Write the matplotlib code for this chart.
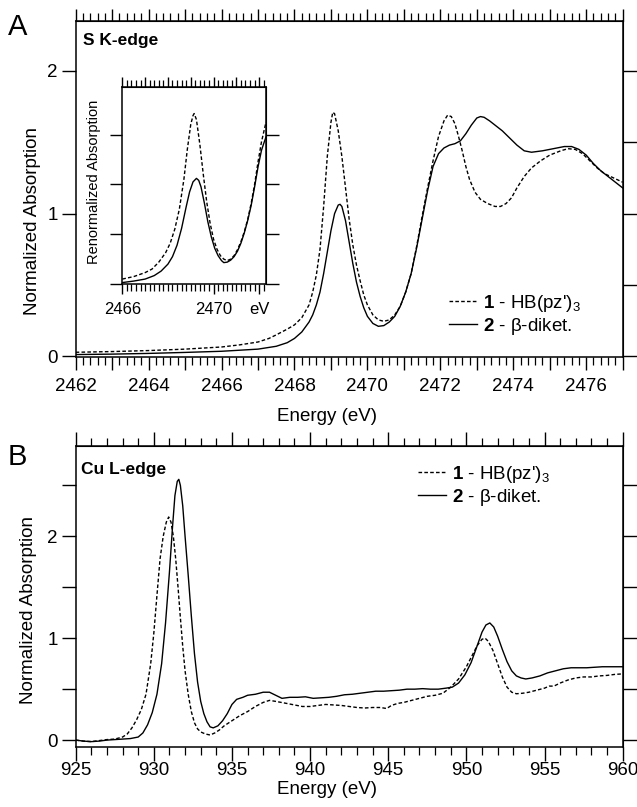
import numpy as np
import matplotlib
matplotlib.use('Agg')
import matplotlib.pyplot as plt
from matplotlib.ticker import MultipleLocator, FixedLocator, FuncFormatter, NullFormatter

plt.rcParams['font.family'] = ['Liberation Sans', 'DejaVu Sans']
plt.rcParams['mathtext.fontset'] = 'custom'
plt.rcParams['mathtext.rm'] = 'Liberation Sans'
plt.rcParams['mathtext.bf'] = 'Liberation Sans:bold'
plt.rcParams['mathtext.it'] = 'Liberation Sans:italic'

# --- Panel A: S K-edge (main) ---
sk_e1 = [2462, 2463, 2464, 2465, 2466, 2466.5, 2467, 2467.3, 2467.5, 2467.8, 2468.0, 2468.2,
         2468.4, 2468.5, 2468.6, 2468.7, 2468.8, 2468.9, 2469.0, 2469.05, 2469.1, 2469.2,
         2469.3, 2469.4, 2469.5, 2469.6, 2469.7, 2469.8, 2469.9, 2470.0, 2470.15, 2470.3,
         2470.45, 2470.6, 2470.75, 2470.9, 2471.05, 2471.2, 2471.35, 2471.5, 2471.65, 2471.8,
         2471.95, 2472.1, 2472.2, 2472.3, 2472.4, 2472.5, 2472.6, 2472.7, 2472.8, 2472.95,
         2473.1, 2473.3, 2473.5, 2473.65, 2473.8, 2473.95, 2474.1, 2474.3, 2474.5, 2474.75,
         2475.0, 2475.3, 2475.5, 2475.7, 2475.9, 2476.1, 2476.3, 2476.5, 2476.75, 2477.0]
sk_y1 = [0.028, 0.033, 0.04, 0.05, 0.065, 0.08, 0.10, 0.125, 0.15, 0.19, 0.22, 0.27,
         0.36, 0.45, 0.57, 0.75, 1.05, 1.40, 1.64, 1.71, 1.70, 1.58,
         1.40, 1.18, 0.96, 0.78, 0.64, 0.53, 0.43, 0.36, 0.29, 0.255,
         0.245, 0.255, 0.29, 0.35, 0.45, 0.58, 0.77, 0.98, 1.18, 1.37,
         1.54, 1.65, 1.69, 1.68, 1.63, 1.54, 1.44, 1.33, 1.24, 1.15,
         1.10, 1.07, 1.05, 1.05, 1.07, 1.11, 1.18, 1.26, 1.32, 1.37,
         1.41, 1.44, 1.455, 1.45, 1.42, 1.37, 1.32, 1.28, 1.25, 1.22]

sk_e2 = [2462, 2463, 2464, 2465, 2466, 2467, 2467.5, 2467.8, 2468.0, 2468.2, 2468.4, 2468.5,
         2468.6, 2468.7, 2468.8, 2468.9, 2469.0, 2469.1, 2469.2, 2469.25, 2469.3, 2469.4,
         2469.5, 2469.6, 2469.7, 2469.8, 2469.9, 2470.0, 2470.15, 2470.3, 2470.45, 2470.6,
         2470.75, 2470.9, 2471.05, 2471.2, 2471.35, 2471.5, 2471.65, 2471.8, 2471.95, 2472.1,
         2472.25, 2472.4, 2472.55, 2472.7, 2472.85, 2473.0, 2473.1, 2473.2, 2473.35, 2473.5,
         2473.7, 2473.9, 2474.1, 2474.3, 2474.5, 2474.8, 2475.1, 2475.4, 2475.6, 2475.8,
         2476.0, 2476.2, 2476.4, 2476.6, 2476.8, 2477.0]
sk_y2 = [0.012, 0.015, 0.02, 0.027, 0.035, 0.05, 0.07, 0.095, 0.125, 0.17, 0.24, 0.29,
         0.36, 0.45, 0.58, 0.73, 0.88, 1.00, 1.06, 1.065, 1.05, 0.95,
         0.80, 0.65, 0.52, 0.42, 0.34, 0.28, 0.23, 0.21, 0.215, 0.24,
         0.28, 0.35, 0.45, 0.58, 0.76, 0.96, 1.16, 1.33, 1.42, 1.46,
         1.48, 1.49, 1.51, 1.56, 1.62, 1.67, 1.68, 1.675, 1.65, 1.62,
         1.58, 1.53, 1.48, 1.44, 1.43, 1.44, 1.455, 1.47, 1.47, 1.45,
         1.41, 1.35, 1.30, 1.26, 1.22, 1.18]

# --- Panel A inset: renormalized ---
in_e1 = [2466, 2466.5, 2467, 2467.3, 2467.6, 2467.9, 2468.1, 2468.3, 2468.5, 2468.7,
         2468.85, 2469.0, 2469.1, 2469.15, 2469.25, 2469.4, 2469.55, 2469.7, 2469.85, 2470.0,
         2470.15, 2470.3, 2470.45, 2470.6, 2470.75, 2470.9, 2471.05, 2471.2, 2471.35, 2471.5,
         2471.65, 2471.8, 2471.95, 2472.1, 2472.2, 2472.3]
in_y1 = [0.10, 0.15, 0.23, 0.30, 0.44, 0.63, 0.82, 1.10, 1.50, 2.10,
         2.70, 3.20, 3.38, 3.42, 3.30, 2.80, 2.20, 1.65, 1.22, 0.90,
         0.70, 0.57, 0.50, 0.47, 0.50, 0.57, 0.69, 0.85, 1.05, 1.30,
         1.62, 2.00, 2.45, 2.85, 3.05, 3.25]

in_e2 = [2466, 2466.5, 2467, 2467.4, 2467.7, 2468.0, 2468.2, 2468.4, 2468.6, 2468.8,
         2468.95, 2469.1, 2469.25, 2469.35, 2469.45, 2469.6, 2469.75, 2469.9, 2470.05, 2470.2,
         2470.35, 2470.45, 2470.6, 2470.75, 2470.9, 2471.05, 2471.2, 2471.35, 2471.5, 2471.65,
         2471.8, 2471.95, 2472.1, 2472.2, 2472.3]
in_y2 = [0.03, 0.06, 0.10, 0.17, 0.26, 0.40, 0.55, 0.78, 1.12, 1.55,
         1.85, 2.05, 2.12, 2.08, 1.95, 1.62, 1.25, 0.95, 0.72, 0.57,
         0.47, 0.43, 0.44, 0.48, 0.55, 0.66, 0.82, 1.03, 1.28, 1.58,
         1.95, 2.35, 2.68, 2.82, 2.95]

# --- Panel B: Cu L-edge ---
cu_e1 = [925, 925.5, 926, 926.5, 927, 927.5, 928, 928.3, 928.6, 928.9, 929.2, 929.5, 929.8,
         930.0, 930.2, 930.4, 930.6, 930.8, 930.95, 931.1, 931.25, 931.4, 931.55, 931.7,
         931.85, 932.0, 932.2, 932.4, 932.6, 932.8, 933.0, 933.3, 933.6, 933.9, 934.2,
         934.5, 935, 935.5, 936, 936.5, 937, 937.4, 937.8, 938.5, 939, 939.5, 940, 940.5,
         941, 941.5, 942, 942.5, 943, 943.5, 944, 944.5, 944.9, 945.2, 945.6, 946, 946.5,
         947, 947.5, 948, 948.5, 949, 949.5, 950, 950.4, 950.7, 951.0, 951.2, 951.4, 951.7,
         952.0, 952.3, 952.6, 952.9, 953.2, 953.6, 954, 954.5, 955, 955.3, 955.6, 956,
         956.5, 957, 957.5, 958, 958.5, 959, 959.5, 960]
cu_y1 = [0.0, -0.01, -0.015, -0.005, 0.005, 0.01, 0.03, 0.06, 0.12, 0.20, 0.30, 0.45, 0.75,
         1.05, 1.42, 1.78, 2.00, 2.14, 2.19, 2.14, 2.00, 1.78, 1.50, 1.20,
         0.92, 0.68, 0.45, 0.28, 0.17, 0.11, 0.08, 0.06, 0.05, 0.07, 0.10,
         0.14, 0.19, 0.24, 0.28, 0.33, 0.37, 0.39, 0.38, 0.36, 0.345, 0.33, 0.33, 0.34,
         0.35, 0.345, 0.34, 0.33, 0.32, 0.315, 0.32, 0.32, 0.31, 0.34, 0.36, 0.37, 0.39,
         0.41, 0.43, 0.44, 0.46, 0.52, 0.60, 0.72, 0.84, 0.93, 0.99, 1.00, 0.97, 0.88,
         0.75, 0.62, 0.52, 0.47, 0.455, 0.46, 0.47, 0.49, 0.51, 0.53, 0.53, 0.56,
         0.59, 0.61, 0.62, 0.62, 0.63, 0.635, 0.645, 0.65]

cu_e2 = [925, 925.5, 926, 926.5, 927, 927.5, 928, 928.5, 929, 929.3, 929.6, 929.9, 930.2,
         930.5, 930.75, 931.0, 931.2, 931.35, 931.5, 931.6, 931.7, 931.85, 932.0, 932.2,
         932.4, 932.6, 932.8, 933.0, 933.2, 933.4, 933.6, 933.8, 934.1, 934.4, 934.7, 935.0,
         935.3, 935.7, 936, 936.5, 937, 937.4, 937.8, 938.2, 938.7, 939.2, 939.7, 940.2,
         940.7, 941.2, 941.7, 942.2, 942.7, 943.2, 943.7, 944.2, 944.7, 945.2, 945.7, 946.2,
         946.7, 947.2, 947.7, 948.2, 948.7, 949.1, 949.5, 949.9, 950.3, 950.7, 951.0, 951.25,
         951.5, 951.75, 952.0, 952.3, 952.6, 952.9, 953.2, 953.5, 953.8, 954.2, 954.7, 955.2,
         955.7, 956.2, 956.7, 957.2, 957.7, 958.2, 958.7, 959.2, 959.6, 960]
cu_y2 = [0.0, -0.01, -0.015, -0.01, 0.0, 0.005, 0.01, 0.015, 0.03, 0.07, 0.15, 0.27, 0.45,
         0.75, 1.15, 1.65, 2.10, 2.40, 2.54, 2.56, 2.50, 2.30, 2.00, 1.62,
         1.22, 0.85, 0.57, 0.38, 0.26, 0.18, 0.13, 0.12, 0.14, 0.19, 0.26, 0.35,
         0.40, 0.42, 0.44, 0.45, 0.47, 0.47, 0.44, 0.41, 0.42, 0.42, 0.425, 0.41,
         0.415, 0.42, 0.43, 0.445, 0.45, 0.46, 0.47, 0.48, 0.48, 0.485, 0.49, 0.50,
         0.50, 0.505, 0.50, 0.50, 0.51, 0.52, 0.56, 0.64, 0.76, 0.93, 1.06, 1.13,
         1.15, 1.11, 1.02, 0.89, 0.77, 0.68, 0.63, 0.61, 0.60, 0.61, 0.63, 0.66,
         0.68, 0.70, 0.71, 0.71, 0.71, 0.715, 0.72, 0.72, 0.72, 0.72]

label1 = r"$\mathbf{1}$ - HB(pz')$_3$"
label2 = "$\\mathbf{2}$ - \u03b2-diket."

FS = 13.5
DASH = (0, (2.6, 1.6))
LW = 1.0

fig = plt.figure(figsize=(6.37, 8.07), dpi=100)


def style_frame(ax, lw=1.1):
    for s in ax.spines.values():
        s.set_linewidth(lw)


# ---------------- Panel A ----------------
axA = fig.add_axes([0.1188, 0.558, 0.8587, 0.416])
lA1, = axA.plot(sk_e1, sk_y1, color='black', lw=LW, linestyle=DASH, label=label1)
lA2, = axA.plot(sk_e2, sk_y2, color='black', lw=LW, label=label2)
axA.set_xlim(2462, 2477)
axA.set_ylim(-0.003, 2.35)
axA.xaxis.set_major_locator(MultipleLocator(1))
axA.xaxis.set_minor_locator(MultipleLocator(0.2))
axA.xaxis.set_major_formatter(FuncFormatter(lambda v, p: f"{v:.0f}" if round(v) % 2 == 0 else ""))
axA.yaxis.set_major_locator(FixedLocator([0, 1, 2]))
axA.tick_params(axis='x', which='major', direction='out', length=9, width=1, labelsize=FS, pad=6)
axA.tick_params(axis='x', which='minor', direction='out', length=6, width=0.9)
axA.tick_params(axis='y', which='major', direction='out', length=10, width=1, labelsize=FS, pad=3)
axA.set_xlabel('Energy (eV)', fontsize=FS)
axA.set_ylabel('Normalized Absorption', fontsize=FS)
axA.xaxis.set_label_coords(0.46, -0.152)
axA.yaxis.set_label_coords(-0.063, 0.405)
style_frame(axA)

topA = axA.secondary_xaxis('top')
topA.xaxis.set_major_locator(MultipleLocator(1))
topA.xaxis.set_minor_locator(MultipleLocator(0.2))
topA.xaxis.set_major_formatter(NullFormatter())
topA.tick_params(which='major', direction='out', length=9, width=1)
topA.tick_params(which='minor', direction='out', length=6, width=0.9)
rightA = axA.secondary_yaxis('right')
rightA.yaxis.set_major_locator(MultipleLocator(0.5))
rightA.yaxis.set_major_formatter(NullFormatter())
rightA.tick_params(direction='out', length=10, width=1)

axA.text(0.013, 0.965, 'S K-edge', transform=axA.transAxes, fontsize=FS - 1,
         fontweight='bold', ha='left', va='top')
fig.text(0.027, 0.966, 'A', fontsize=21, ha='center', va='center')

axA.legend(handles=[lA1, lA2], loc='upper left', bbox_to_anchor=(0.683, 0.19),
           frameon=False, fontsize=FS, handlelength=1.5, handletextpad=0.3,
           labelspacing=0.1, borderpad=0, borderaxespad=0)

# ---------------- Inset ----------------
axI = fig.add_axes([0.192, 0.648, 0.2256, 0.244])
axI.plot(in_e1, in_y1, color='black', lw=LW, linestyle=DASH)
axI.plot(in_e2, in_y2, color='black', lw=LW)
axI.set_xlim(2466, 2472.3)
axI.set_ylim(0, 3.95)
axI.xaxis.set_major_locator(FixedLocator([2466, 2470, 2472]))
axI.xaxis.set_major_formatter(FuncFormatter(lambda v, p: {2466: '2466', 2470: '2470', 2472: 'eV'}.get(round(v), '')))
axI.xaxis.set_minor_locator(MultipleLocator(0.2))
axI.yaxis.set_major_locator(FixedLocator([0, 1, 2, 3]))
axI.yaxis.set_major_formatter(NullFormatter())
axI.tick_params(axis='x', which='major', direction='out', length=7, width=1, labelsize=12, pad=6)
axI.tick_params(axis='x', which='minor', direction='out', length=5, width=0.9)
axI.tick_params(axis='y', which='major', direction='out', length=9, width=1)
axI.set_ylabel('Renormalized Absorption', fontsize=10.5)
axI.yaxis.set_label_coords(-0.145, 0.52)
style_frame(axI)
topI = axI.secondary_xaxis('top')
topI.xaxis.set_major_locator(MultipleLocator(1))
topI.xaxis.set_minor_locator(MultipleLocator(0.2))
topI.xaxis.set_major_formatter(NullFormatter())
topI.tick_params(which='major', direction='out', length=7, width=1)
topI.tick_params(which='minor', direction='out', length=5, width=0.9)
rightI = axI.secondary_yaxis('right')
rightI.yaxis.set_major_locator(FixedLocator([0, 1, 2, 3]))
rightI.yaxis.set_major_formatter(NullFormatter())
rightI.tick_params(direction='out', length=9, width=1)

# ---------------- Panel B ----------------
axB = fig.add_axes([0.1188, 0.0747, 0.8587, 0.373])
lB1, = axB.plot(cu_e1, cu_y1, color='black', lw=LW, linestyle=DASH, label=label1)
lB2, = axB.plot(cu_e2, cu_y2, color='black', lw=LW, label=label2)
axB.set_xlim(925, 960)
axB.set_ylim(-0.065, 2.89)
axB.xaxis.set_major_locator(MultipleLocator(5))
axB.xaxis.set_minor_locator(MultipleLocator(1))
axB.yaxis.set_major_locator(MultipleLocator(0.5))
axB.yaxis.set_major_formatter(FuncFormatter(lambda v, p: f"{v:.0f}" if abs(v - round(v)) < 1e-6 else ""))
axB.tick_params(axis='x', which='major', direction='out', length=10, width=1, labelsize=FS, pad=1)
axB.tick_params(axis='x', which='minor', direction='out', length=6, width=0.9)
axB.tick_params(axis='y', which='major', direction='out', length=10, width=1, labelsize=FS, pad=3)
axB.set_xlabel('Energy (eV)', fontsize=FS)
axB.set_ylabel('Normalized Absorption', fontsize=FS)
axB.xaxis.set_label_coords(0.46, -0.113)
axB.yaxis.set_label_coords(-0.071, 0.454)
style_frame(axB)

topB = axB.secondary_xaxis('top')
topB.xaxis.set_major_locator(MultipleLocator(5))
topB.xaxis.set_minor_locator(MultipleLocator(1))
topB.xaxis.set_major_formatter(NullFormatter())
topB.tick_params(which='major', direction='out', length=10, width=1)
topB.tick_params(which='minor', direction='out', length=6, width=0.9)
rightB = axB.secondary_yaxis('right')
rightB.yaxis.set_major_locator(MultipleLocator(0.5))
rightB.yaxis.set_major_formatter(NullFormatter())
rightB.tick_params(direction='out', length=10, width=1)

axB.text(0.009, 0.945, 'Cu L-edge', transform=axB.transAxes, fontsize=FS - 1,
         fontweight='bold', ha='left', va='top')
fig.text(0.027, 0.434, 'B', fontsize=21, ha='center', va='center')

axB.legend(handles=[lB1, lB2], loc='upper left', bbox_to_anchor=(0.626, 0.94),
           frameon=False, fontsize=FS, handlelength=1.5, handletextpad=0.3,
           labelspacing=0.1, borderpad=0, borderaxespad=0)

fig.savefig('out.png', dpi=100)
